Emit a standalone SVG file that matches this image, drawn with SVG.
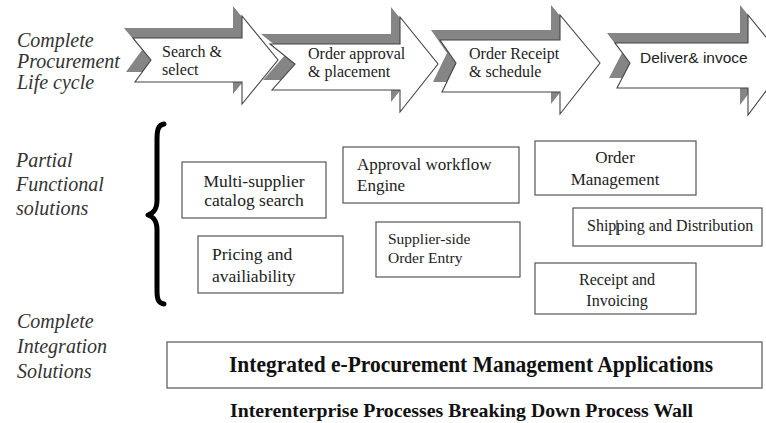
<svg xmlns="http://www.w3.org/2000/svg" width="766" height="423" viewBox="0 0 766 423">
<style>
.sh{fill:#858585;stroke:none}
.ar{fill:#fff;stroke:#444;stroke-width:1.1;stroke-linejoin:miter}
.box{fill:#fff;stroke:#555;stroke-width:1.2}
text{font-family:'Liberation Serif','DejaVu Serif',serif}
.t{fill:#222}
.a{font-size:16px}
.b{font-size:17px}
.lab{font-style:italic;font-size:20px;fill:#333}
.bold{font-weight:bold;fill:#111}
.sans{font-family:'Liberation Sans',Arial,sans-serif;font-size:15.5px;fill:#222}
</style>
<rect width="766" height="423" fill="#fff"/>

<g id="labels">
<text class="lab" x="17" y="47">Complete</text>
<text class="lab" x="17" y="68">Procurement</text>
<text class="lab" x="17" y="89">Life cycle</text>
<text class="lab" x="16" y="167">Partial</text>
<text class="lab" x="16" y="191">Functional</text>
<text class="lab" x="16" y="215">solutions</text>
<text class="lab" x="17" y="328">Complete</text>
<text class="lab" x="17" y="353">Integration</text>
<text class="lab" x="17" y="378">Solutions</text>
</g>

<g id="arrow4">
<polygon class="sh" points="607,33 740,33 740,5 779,53 740,105 740,78 609,78 622,53"/>
<polygon class="ar" points="615,43 748,43 748,15 787,63 748,115 748,88 617,88 630,63"/>
<text class="sans" x="640" y="63">Deliver&amp; invoce</text>
</g>
<g id="arrow3">
<polygon class="sh" points="431,30 551,30 551,5 591,53 551,104 551,82 433,82 447,53"/>
<polygon class="ar" points="440,40 560,40 560,15 600,63 560,114 560,92 442,92 456,63"/>
<text class="t a" x="469" y="59">Order Receipt</text>
<text class="t a" x="469" y="77">&amp; schedule</text>
</g>
<g id="arrow2">
<polygon class="sh" points="261,34 391,34 391,7 429,54 391,102 391,80 263,80 286,54"/>
<polygon class="ar" points="270,44 400,44 400,17 438,64 400,112 400,90 272,90 295,64"/>
<text class="t a" x="308" y="59">Order approval</text>
<text class="t a" x="308" y="77">&amp; placement</text>
</g>
<g id="arrow1">
<polygon class="sh" points="124,28 233,28 233,6 269,50 233,94 233,72 126,72 142,50"/>
<polygon class="ar" points="133,38 242,38 242,16 278,60 242,104 242,82 135,82 151,60"/>
<text class="t a" x="162" y="57">Search &amp;</text>
<text class="t a" x="162" y="75">select</text>
</g>

<g id="brace">
<path d="M164,124 C158,125 157,130 157,140 L157,200 C157,209 154,213 148,215 C154,217 157,221 157,230 L157,290 C157,299 158,303 164,304" fill="none" stroke="#000" stroke-width="5" stroke-linecap="round" stroke-linejoin="round"/>
</g>

<g id="multi-supplier">
<rect class="box" x="182" y="162" width="144" height="56"/>
<text class="t" x="254" y="187" text-anchor="middle" font-size="17.5">Multi-supplier</text>
<text class="t" x="254" y="206" text-anchor="middle" font-size="17.5">catalog search</text>
</g>
<g id="pricing">
<rect class="box" x="198" y="236" width="145" height="57"/>
<text class="t" x="212" y="260" font-size="17.5">Pricing and</text>
<text class="t" x="212" y="282" font-size="17.5">availiability</text>
</g>
<g id="approval">
<rect class="box" x="343" y="147" width="176" height="56"/>
<text class="t b" x="357" y="170">Approval workflow</text>
<text class="t b" x="357" y="191">Engine</text>
</g>
<g id="supplier-side">
<rect class="box" x="376" y="222" width="144" height="55"/>
<text class="t" x="388" y="244" font-size="15.5">Supplier-side</text>
<text class="t" x="388" y="263" font-size="15.5">Order Entry</text>
</g>
<g id="order-management">
<rect class="box" x="535" y="141" width="161" height="54"/>
<text class="t b" x="615" y="163" text-anchor="middle">Order</text>
<text class="t b" x="615" y="185" text-anchor="middle">Management</text>
</g>
<g id="shipping">
<rect class="box" x="573" y="208" width="189" height="38"/>
<text class="t a" x="587" y="231">Shipping and Distribution</text>
<line x1="617" y1="220" x2="617" y2="235" stroke="#222" stroke-width="1"/>
</g>
<g id="receipt">
<rect class="box" x="535" y="263" width="161" height="51"/>
<text class="t a" x="617" y="285" text-anchor="middle">Receipt and</text>
<text class="t a" x="617" y="306" text-anchor="middle">Invoicing</text>
</g>
<g id="integrated">
<rect class="box" x="167" y="342" width="595" height="46"/>
<text class="bold" x="229" y="372" font-size="23" textLength="484" lengthAdjust="spacingAndGlyphs">Integrated e-Procurement Management Applications</text>
</g>
<g id="footer">
<text class="bold" x="230" y="417" font-size="19" textLength="463" lengthAdjust="spacingAndGlyphs">Interenterprise Processes Breaking Down Process Wall</text>
</g>
<g id="connectors"></g>
</svg>
